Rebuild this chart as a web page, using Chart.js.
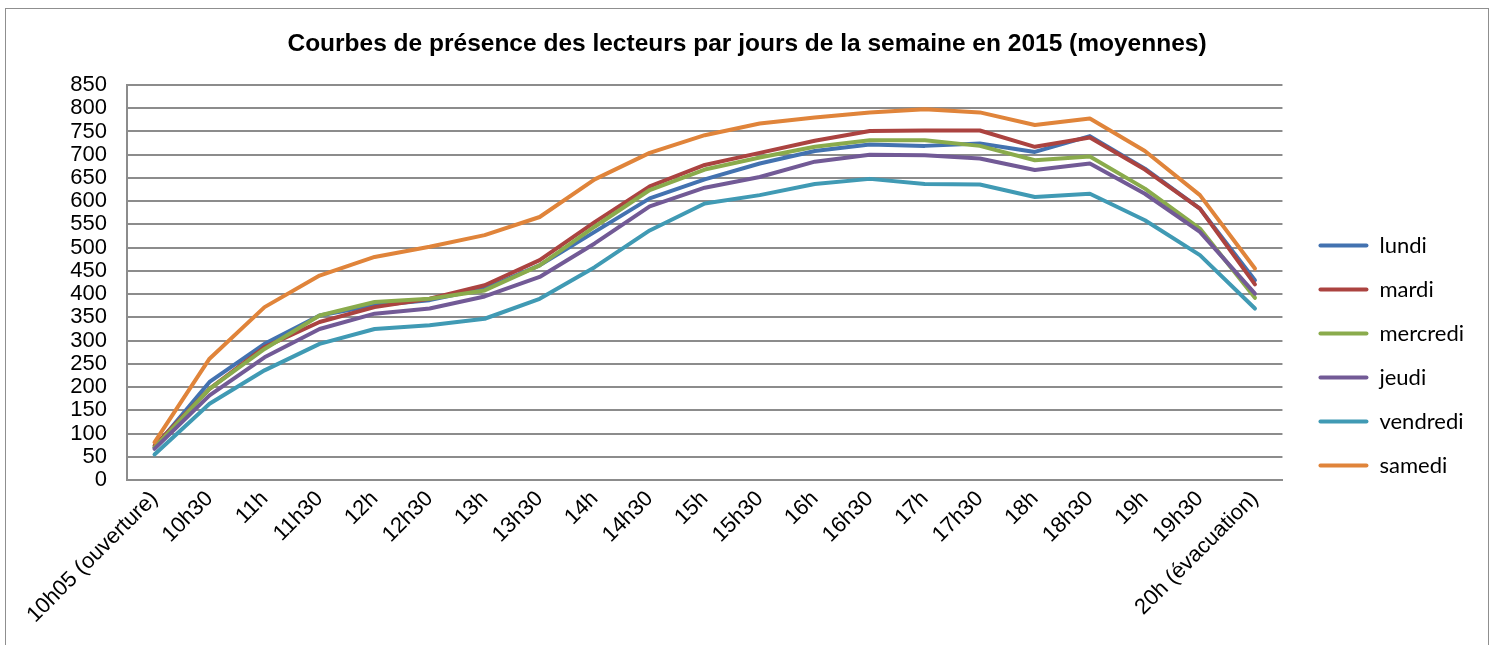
<!DOCTYPE html>
<html lang="fr">
<head>
<meta charset="utf-8">
<title>Présence des lecteurs 2015</title>
<script src="https://cdn.jsdelivr.net/npm/chart.js@4.4.1/dist/chart.umd.min.js"></script>
<style>
  html, body { margin: 0; padding: 0; background: #fff; }
  #wrap { position: relative; width: 1494px; height: 645px; overflow: hidden; }
  #frame { position: absolute; left: 5px; top: 8px; width: 1482px; height: 700px; border: 1px solid #8f8f8f; pointer-events: none; }
</style>
</head>
<body>
<div id="wrap">
  <canvas id="presence" width="1494" height="645"></canvas>
  <div id="frame"></div>
</div>
<script>
// Time slots (x axis)
const heures = ["10h05 (ouverture)", "10h30", "11h", "11h30", "12h", "12h30", "13h", "13h30", "14h", "14h30",
  "15h", "15h30", "16h", "16h30", "17h", "17h30", "18h", "18h30", "19h", "19h30", "20h (évacuation)"];

// Average number of readers present, per weekday
const lundi    = [70, 211, 293, 354, 376, 387, 412, 462, 534, 606, 647, 681, 708, 722, 719, 724, 706, 740, 670, 584, 430];
const mardi    = [74, 196, 286, 340, 372, 390, 419, 473, 555, 632, 678, 704, 730, 751, 752, 752, 717, 737, 668, 584, 421];
const mercredi = [70, 196, 282, 354, 383, 390, 408, 462, 545, 624, 668, 694, 717, 731, 731, 719, 688, 696, 627, 541, 392];
const jeudi    = [67, 182, 264, 325, 358, 369, 395, 437, 509, 589, 629, 652, 685, 700, 699, 692, 667, 681, 616, 534, 401];
const vendredi = [55, 164, 236, 293, 325, 333, 347, 390, 458, 537, 595, 613, 637, 648, 637, 636, 609, 616, 559, 484, 369];
const samedi   = [81, 261, 372, 440, 480, 502, 527, 566, 647, 704, 742, 767, 780, 791, 798, 791, 764, 778, 708, 613, 455];

const jours = ["lundi", "mardi", "mercredi", "jeudi", "vendredi", "samedi"];
const series = [lundi, mardi, mercredi, jeudi, vendredi, samedi];
const couleurs = ["#4372b0", "#ab4340", "#8aab4c", "#725a96", "#409ab4", "#e0843a"];

const axisFont = { family: "'Liberation Sans', Arial, sans-serif", size: 22 };
const gridColor = "#8c8c8c";

// moves the legend block right/down, and re-centres the title on the full width
const blockNudge = {
  id: "blockNudge",
  afterLayout(chart) {
    const lg = chart.legend;
    lg.left += 14; lg.right += 14;
    lg.top += 33; lg.bottom += 33;
    const tt = chart.titleBlock;
    tt.left += 17; tt.right += 17;
  }
};

const ctx = document.getElementById("presence").getContext("2d");
new Chart(ctx, {
  type: "line",
  data: {
    labels: heures,
    datasets: jours.map((jour, i) => ({
      label: jour,
      data: series[i],
      borderColor: couleurs[i],
      backgroundColor: couleurs[i],
      borderWidth: 4,
      pointRadius: 0,
      pointHoverRadius: 0,
      tension: 0,
      borderJoinStyle: "round",
      borderCapStyle: "round",
      order: jours.length - i // later days drawn on top
    }))
  },
  options: {
    responsive: false,
    animation: false,
    devicePixelRatio: 1,
    layout: { padding: { top: 0, right: 34, bottom: 0, left: 0 } },
    plugins: {
      title: {
        display: true,
        text: "Courbes de présence des lecteurs par jours de la semaine en 2015 (moyennes)",
        color: "#000",
        font: { family: "'Liberation Sans', Arial, sans-serif", size: 24.5, weight: "bold" },
        padding: { top: 30, bottom: 25.6 }
      },
      legend: {
        position: "right",
        labels: {
          boxWidth: 50,
          boxHeight: 4,
          useBorderRadius: true,
          borderRadius: 2,
          padding: 22,
          color: "#000",
          font: { family: "Lato, 'Open Sans', sans-serif", size: 22 },
          sort: (a, b) => a.datasetIndex - b.datasetIndex,
          generateLabels: (chart) =>
            Chart.defaults.plugins.legend.labels.generateLabels(chart)
              .map((item) => ({ ...item, lineWidth: 0 }))
        }
      },
      tooltip: { enabled: false }
    },
    scales: {
      x: {
        offset: true,
        grid: { display: false, drawTicks: false },
        border: { display: true, color: gridColor, width: 2 },
        ticks: {
          autoSkip: false,
          minRotation: 45,
          maxRotation: 45,
          padding: 6,
          color: "#000",
          font: axisFont
        },
        afterFit: (scale) => { scale.height = 165; }
      },
      y: {
        min: 0,
        max: 850,
        ticks: { stepSize: 50, autoSkip: false, padding: 20, color: "#000", font: axisFont },
        grid: { color: gridColor, lineWidth: 2, drawTicks: false },
        border: { color: gridColor, width: 2 },
        afterFit: (scale) => { scale.width = 127; }
      }
    }
  },
  plugins: [blockNudge]
});
</script>
</body>
</html>
